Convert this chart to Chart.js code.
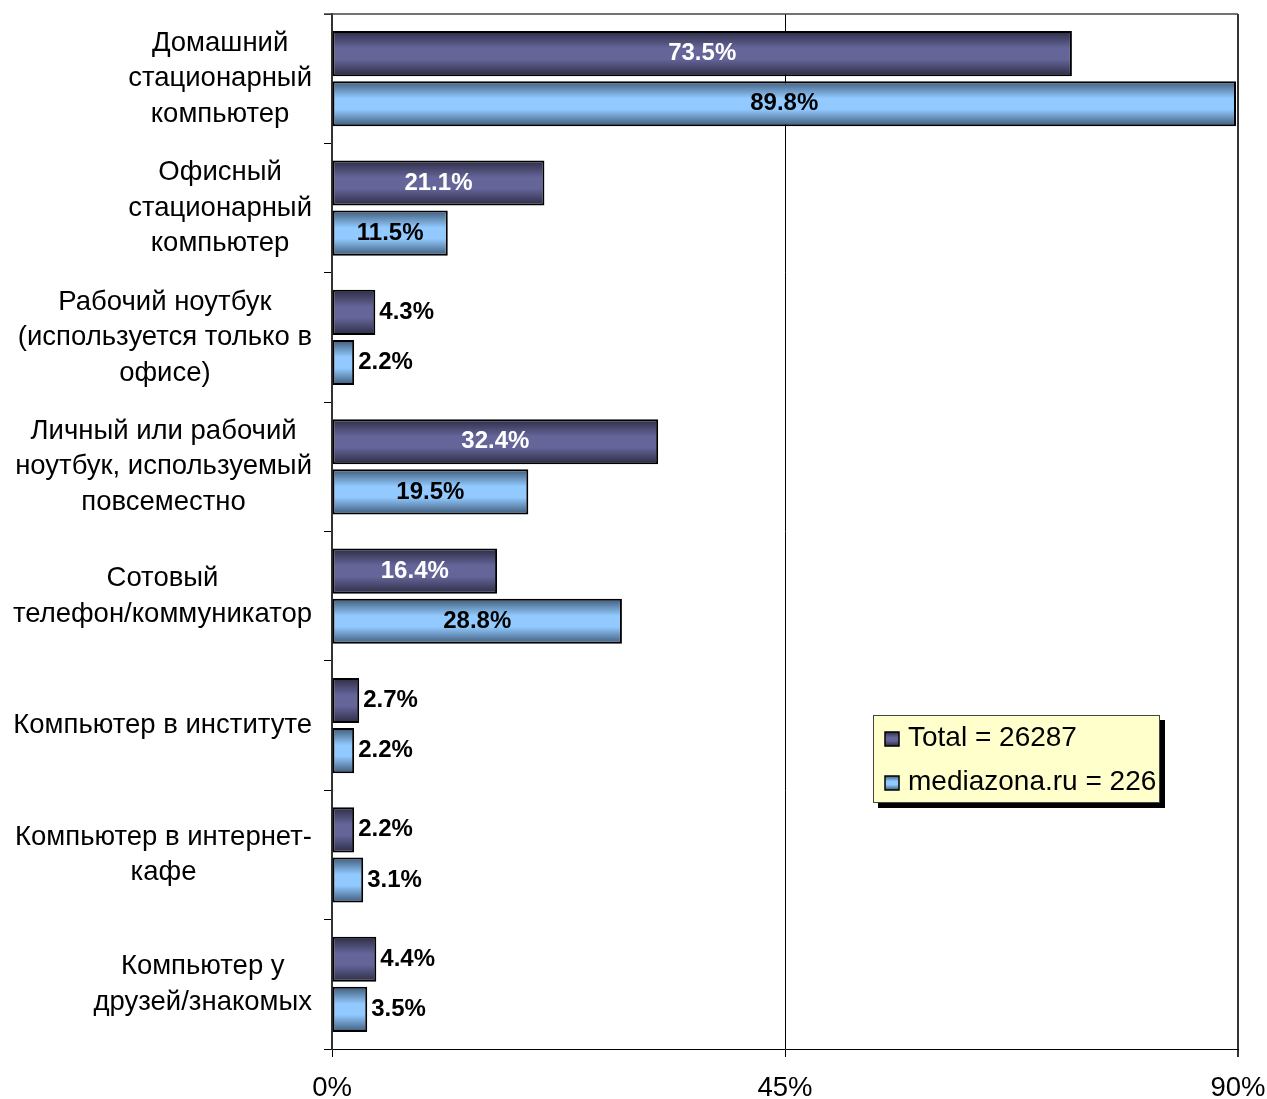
<!DOCTYPE html>
<html>
<head>
<meta charset="utf-8">
<script src="https://cdn.jsdelivr.net/npm/chart.js@4.4.1/dist/chart.umd.min.js"></script>
<style>
  html, body { margin: 0; padding: 0; background: #fff; }
  #wrap { width: 1267px; height: 1099px; position: relative; }
</style>
</head>
<body>
<div id="wrap"><canvas id="c" width="1267" height="1099"></canvas></div>
<script>
// categories (line breaks as in the picture)
const categories = [
  ["Домашний", "стационарный", "компьютер"],
  ["Офисный", "стационарный", "компьютер"],
  ["Рабочий ноутбук", "(используется только в", "офисе)"],
  ["Личный или рабочий", "ноутбук, используемый", "повсеместно"],
  ["Сотовый", "телефон/коммуникатор"],
  ["Компьютер в институте"],
  ["Компьютер в интернет-", "кафе"],
  ["Компьютер у", "друзей/знакомых"]
];
const seriesNames = ["Total = 26287", "mediazona.ru = 226"];
const totalValues = [73.5, 21.1, 4.3, 32.4, 16.4, 2.7, 2.2, 4.4];
const mediazonaValues = [89.8, 11.5, 2.2, 19.5, 28.8, 2.2, 3.1, 3.5];
const xTicks = [0, 45, 90];

const FONT = '"Liberation Sans", Arial, sans-serif';

// gradient colours: edge, middle
const shades = [
  ["#2c2c44", "#65659a"],
  ["#3e5a78", "#92caff"]
];

function barGradient(ctx, top, bottom, s) {
  const g = ctx.createLinearGradient(0, top, 0, bottom);
  g.addColorStop(0, s[0]);
  g.addColorStop(0.38, s[1]);
  g.addColorStop(0.62, s[1]);
  g.addColorStop(1, s[0]);
  return g;
}

// paint each bar with its own vertical gradient
const gradientBars = {
  id: "gradientBars",
  beforeDatasetsDraw(chart) {
    const ctx = chart.ctx;
    chart.data.datasets.forEach((ds, di) => {
      chart.getDatasetMeta(di).data.forEach(el => {
        const h = el.height;
        el.options.backgroundColor = barGradient(ctx, el.y - h / 2, el.y + h / 2, shades[di]);
      });
    });
  }
};

// value labels, category labels and legend
const extras = {
  id: "extras",
  afterDraw(chart) {
    const ctx = chart.ctx;
    const area = chart.chartArea;
    ctx.save();

    // top frame line
    ctx.strokeStyle = "#444";
    ctx.lineWidth = 1.5;
    ctx.beginPath();
    ctx.moveTo(area.left - 8, area.top);
    ctx.lineTo(area.right, area.top);
    ctx.stroke();

    // value labels
    ctx.font = "bold 24px " + FONT;
    ctx.textBaseline = "middle";
    chart.data.datasets.forEach((ds, di) => {
      chart.getDatasetMeta(di).data.forEach((el, i) => {
        const v = ds.data[i];
        const txt = v.toFixed(1) + "%";
        if (v >= 8) {
          ctx.textAlign = "center";
          ctx.fillStyle = di === 0 ? "#fff" : "#000";
          ctx.fillText(txt, (el.x + el.base) / 2, el.y);
        } else {
          ctx.textAlign = "left";
          ctx.fillStyle = "#000";
          ctx.fillText(txt, el.x + 4, el.y);
        }
      });
    });

    // category labels: lines centred, block right-aligned
    const yScale = chart.scales.y;
    ctx.font = "27.5px " + FONT;
    ctx.fillStyle = "#000";
    ctx.textAlign = "center";
    const right = area.left - 20;
    const lh = 35.5;
    categories.forEach((lines, i) => {
      const cy = yScale.getPixelForValue(i);
      const w = Math.max(...lines.map(l => ctx.measureText(l).width));
      const cx = right - w / 2;
      lines.forEach((l, k) => {
        ctx.fillText(l, cx, cy + (k - (lines.length - 1) / 2) * lh);
      });
    });

    // legend box
    const bx = area.left + 541, by = 715, bw = 287, bh = 88;
    ctx.fillStyle = "#000";
    ctx.fillRect(bx + 5, by + 5, bw, bh);
    ctx.fillStyle = "#ffffcc";
    ctx.fillRect(bx, by, bw, bh);
    ctx.strokeStyle = "#444";
    ctx.lineWidth = 1;
    ctx.strokeRect(bx + 0.5, by + 0.5, bw - 1, bh - 1);
    ctx.font = "28px " + FONT;
    ctx.textAlign = "left";
    seriesNames.forEach((name, i) => {
      const y = by + 23 + i * 44;
      const m = 14;
      ctx.fillStyle = barGradient(ctx, y - m / 2 + 1, y + m / 2 + 1, shades[i]);
      ctx.fillRect(bx + 12, y - m / 2 + 1, m, m);
      ctx.strokeStyle = "#000";
      ctx.lineWidth = 1.5;
      ctx.strokeRect(bx + 12, y - m / 2 + 1, m, m);
      ctx.fillStyle = "#000";
      ctx.fillText(name, bx + 35, y);
    });
    ctx.restore();
  }
};

new Chart(document.getElementById("c"), {
  type: "bar",
  data: {
    labels: categories,
    datasets: [
      {
        label: seriesNames[0],
        data: totalValues,
        backgroundColor: () => shades[0][1],
        borderColor: "#000",
        borderWidth: 2,
        borderSkipped: false,
        categoryPercentage: 0.775,
        barPercentage: 0.9
      },
      {
        label: seriesNames[1],
        data: mediazonaValues,
        backgroundColor: () => shades[1][1],
        borderColor: "#000",
        borderWidth: 2,
        borderSkipped: false,
        categoryPercentage: 0.775,
        barPercentage: 0.9
      }
    ]
  },
  options: {
    indexAxis: "y",
    responsive: false,
    animation: false,
    layout: { padding: { top: 14, right: 29, left: 0, bottom: 0 } },
    plugins: {
      legend: { display: false },
      tooltip: { enabled: false }
    },
    scales: {
      x: {
        min: 0,
        max: 90,
        afterBuildTicks: s => { s.ticks = xTicks.map(v => ({ value: v })); },
        ticks: {
          callback: v => v + "%",
          font: { family: FONT, size: 27.5 },
          color: "#000",
          padding: 15,
          maxRotation: 0
        },
        grid: {
          color: c => (c.tick && c.tick.value === 90 ? "#333" : "#000"),
          lineWidth: c => (c.tick && c.tick.value === 90 ? 2 : 1),
          tickLength: 8
        },
        border: { color: "#000", width: 1 },
        afterFit: s => { s.height = 50; s.paddingLeft = 0; s.paddingRight = 0; }
      },
      y: {
        offset: true,
        ticks: { callback: () => "" },
        grid: { color: "#000", lineWidth: 1, tickLength: 8, drawOnChartArea: false, offset: true },
        border: { color: "#333", width: 2 },
        afterFit: s => { s.width = 332; s.paddingTop = 0; s.paddingBottom = 0; }
      }
    }
  },
  plugins: [gradientBars, extras]
});
</script>
</body>
</html>
